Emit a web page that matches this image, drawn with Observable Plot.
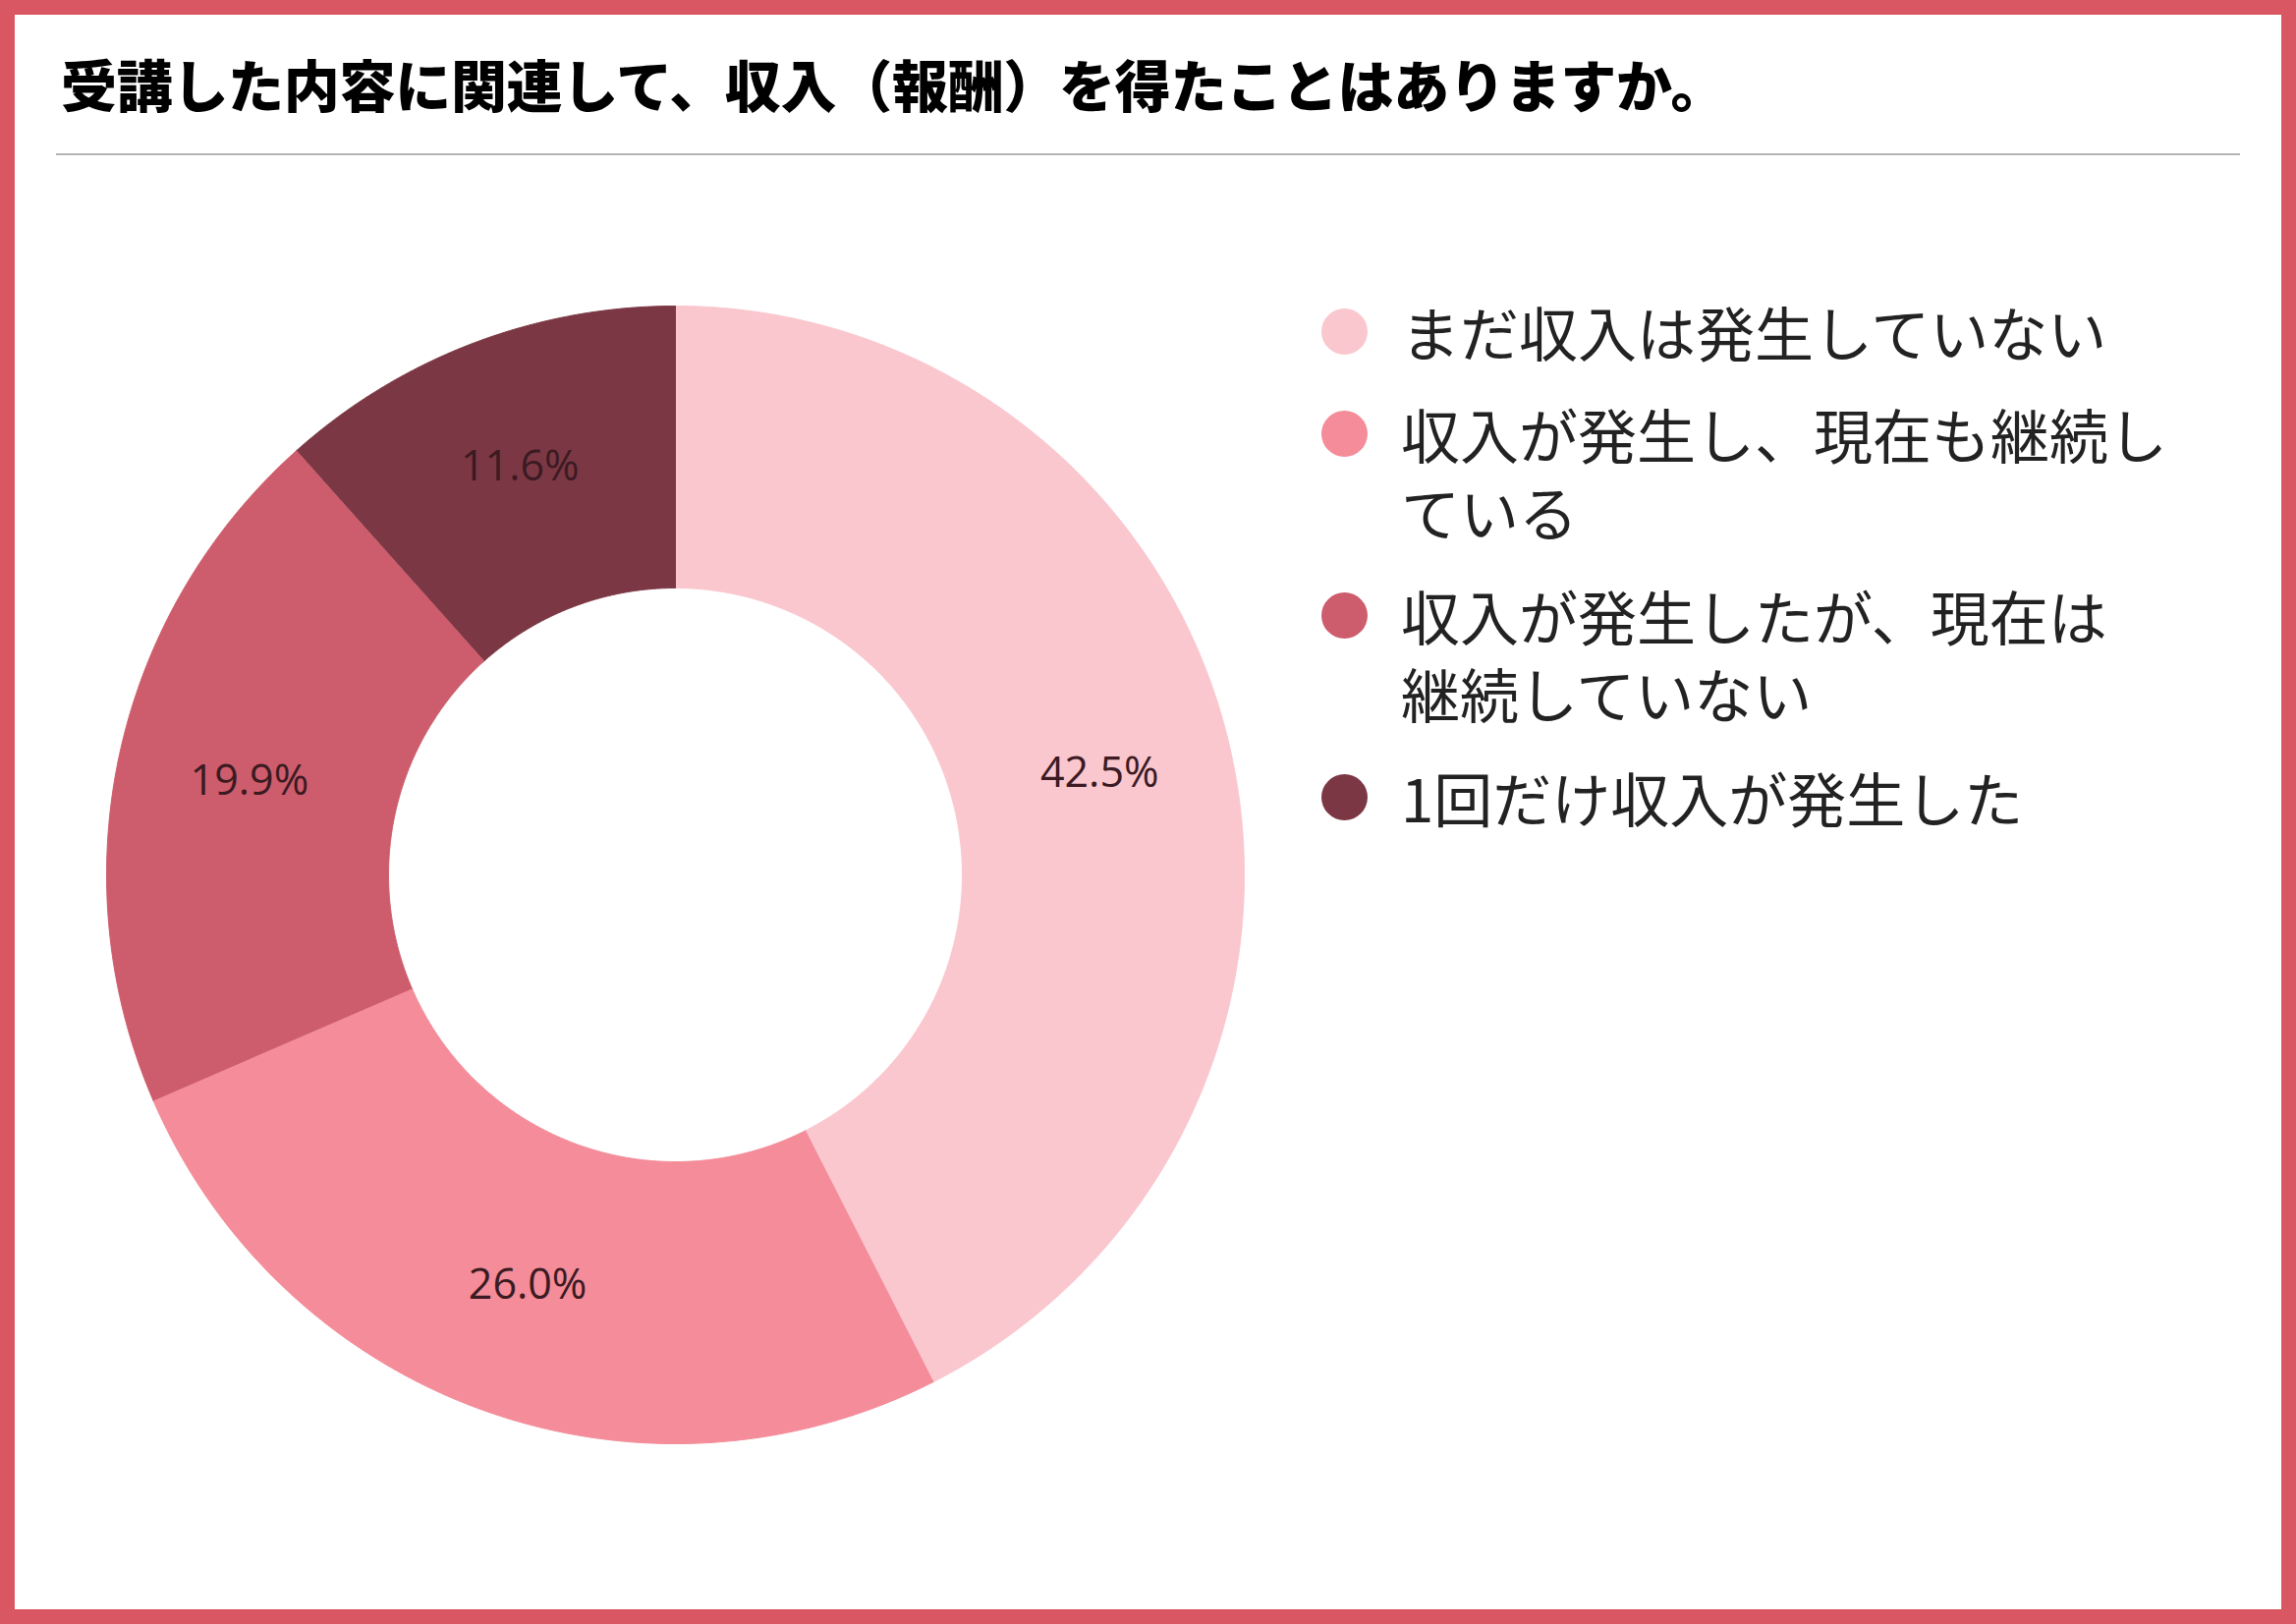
<!DOCTYPE html>
<html lang="ja">
<head>
<meta charset="utf-8">
<script src="https://cdn.jsdelivr.net/npm/d3@7"></script>
<script src="https://cdn.jsdelivr.net/npm/@observablehq/plot@0.6"></script>
<style>
  html, body { margin: 0; padding: 0; background: #fff; }
  #frame {
    position: relative; width: 2337px; height: 1653px; box-sizing: border-box;
    border: 15px solid #d95763; background: #fff; overflow: hidden;
    font-family: "Noto Sans CJK JP", sans-serif; color: #222;
  }
  #title {
    position: absolute; left: 47px; top: 28px; font-size: 57px; font-weight: 900;
    color: #000; white-space: nowrap; letter-spacing: -0.3px;
  }
  #rule { position: absolute; left: 42px; top: 141px; width: 2223px; height: 2px; background: #b5b5b5; }
  #chart { position: absolute; left: 57px; top: 260px; }
  #legend { position: absolute; left: 1323px; top: 0; }
  .item { position: absolute; left: 0; white-space: nowrap; }
  .sw { position: absolute; left: 7px; width: 47px; height: 47px; border-radius: 50%; }
  .lbl { position: absolute; left: 88px; font-size: 60px; line-height: 79px; color: #222; }
</style>
</head>
<body>
<div id="frame">
  <div id="title"></div>
  <div id="rule"></div>
  <div id="chart"></div>
  <div id="legend"></div>
</div>
<script>
const title = "受講した内容に関連して、収入（報酬）を得たことはありますか。";
const categories = [
  "まだ収入は発生していない",
  "収入が発生し、現在も継続している",
  "収入が発生したが、現在は継続していない",
  "1回だけ収入が発生した"
];
const legendLines = [
  ["まだ収入は発生していない"],
  ["収入が発生し、現在も継続し", "ている"],
  ["収入が発生したが、現在は", "継続していない"],
  ["1回だけ収入が発生した"]
];
const values = [42.5, 26.0, 19.9, 11.6];
const labels = ["42.5%", "26.0%", "19.9%", "11.6%"];
const colors = ["#fac7cf", "#f48c99", "#cd5d6c", "#7b3844"];

document.getElementById("title").textContent = title;

const R_OUT = 579, R_IN = 292, R_LBL = 444, HALF = 615;
const arcs = d3.pie().sort(null).value(d => d)(values);

const ringPts = [];
arcs.forEach((a, i) => {
  const n = Math.max(8, Math.ceil((a.endAngle - a.startAngle) / 0.005));
  for (let k = 0; k <= n; k++) {
    const t = a.startAngle + (a.endAngle - a.startAngle) * k / n;
    ringPts.push({cat: categories[i], x: R_OUT * Math.sin(t), y: R_OUT * Math.cos(t)});
  }
  for (let k = n; k >= 0; k--) {
    const t = a.startAngle + (a.endAngle - a.startAngle) * k / n;
    ringPts.push({cat: categories[i], x: R_IN * Math.sin(t), y: R_IN * Math.cos(t)});
  }
});
const labelData = arcs.map((a, i) => {
  const m = (a.startAngle + a.endAngle) / 2;
  return {text: labels[i], x: R_LBL * Math.sin(m), y: R_LBL * Math.cos(m)};
});

const chart = Plot.plot({
  width: 2 * HALF, height: 2 * HALF,
  margin: 0,
  x: {domain: [-HALF, HALF], axis: null},
  y: {domain: [-HALF, HALF], axis: null},
  color: {domain: categories, range: colors},
  style: {background: "transparent", overflow: "visible"},
  marks: [
    Plot.line(ringPts, {x: "x", y: "y", z: "cat", fill: "cat", stroke: "cat", strokeWidth: 1, curve: "linear"}),
    Plot.text(labelData, {x: "x", y: "y", text: "text", fill: "#3b1a22", fontSize: 43,
      fontFamily: "'Open Sans', 'Noto Sans', sans-serif"})
  ]
});
document.getElementById("chart").appendChild(chart);

const legend = document.getElementById("legend");
const rowTops = [282, 386, 571, 756];
legendLines.forEach((lines, i) => {
  const item = document.createElement("div");
  item.className = "item";
  item.style.top = rowTops[i] + "px";
  const sw = document.createElement("div");
  sw.className = "sw";
  sw.style.background = colors[i];
  sw.style.top = (40 - 23) + "px";
  const lbl = document.createElement("div");
  lbl.className = "lbl";
  lbl.style.top = "0px";
  lines.forEach((t, j) => {
    if (j) lbl.appendChild(document.createElement("br"));
    lbl.appendChild(document.createTextNode(t));
  });
  item.appendChild(sw);
  item.appendChild(lbl);
  legend.appendChild(item);
});
</script>
</body>
</html>
